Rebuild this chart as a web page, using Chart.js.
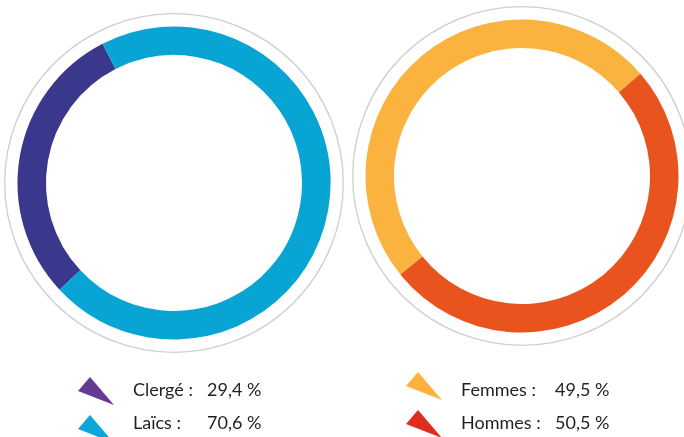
<!DOCTYPE html>
<html>
<head>
<meta charset="utf-8">
<script src="https://cdn.jsdelivr.net/npm/chart.js@4.4.0/dist/chart.umd.min.js"></script>
<style>
  html, body { margin: 0; padding: 0; width: 684px; height: 437px; overflow: hidden; background: #ffffff; }
  #wrap { position: relative; width: 684px; height: 437px; overflow: hidden; }
  canvas { position: absolute; }
  #c1 { left: 2px; top: 11px; }
  #c2 { left: 350px; top: 4px; }
  .lg { position: absolute; font-family: Lato, "Open Sans", sans-serif; font-size: 18px; line-height: 18px; color: #231f20; white-space: nowrap; }
  #icons { position: absolute; left: 0; top: 0; }
</style>
</head>
<body>
<div id="wrap">
  <canvas id="c1" width="344" height="344"></canvas>
  <canvas id="c2" width="344" height="344"></canvas>
  <svg id="icons" width="684" height="437"></svg>
</div>
<script>
// ---- data ----
const leftLabels = ['Clergé', 'Laïcs'];
const leftValues = [29.4, 70.6];
const rightLabels = ['Femmes', 'Hommes'];
const rightValues = [49.5, 50.5];

// ---- styles ----
const leftRingColors = ['#3a388c', '#08a5d4'];
const rightRingColors = ['#f9b33e', '#e9541e'];
const leftIconColors = ['#663a94', '#0ba7d9'];
const rightIconColors = ['#fbb33d', '#de2d1e'];

const greyRing = {
  id: 'greyRing',
  beforeDatasetsDraw(chart) {
    const a = chart.chartArea;
    const cx = (a.left + a.right) / 2, cy = (a.top + a.bottom) / 2;
    const ctx = chart.ctx;
    ctx.save();
    ctx.beginPath();
    ctx.arc(cx, cy, 169.3, 0, Math.PI * 2);
    ctx.strokeStyle = '#cfcfcf';
    ctx.lineWidth = 1.3;
    ctx.stroke();
    ctx.restore();
  }
};

function makeDonut(id, labels, values, colors, rotation) {
  return new Chart(document.getElementById(id), {
    type: 'doughnut',
    data: {
      labels: labels,
      datasets: [{
        data: values,
        backgroundColor: colors,
        borderWidth: 0,
        hoverOffset: 0
      }]
    },
    options: {
      responsive: false,
      animation: false,
      events: [],
      rotation: rotation,
      radius: 156.5,
      cutout: '81.8%',
      layout: { padding: 0 },
      plugins: { legend: { display: false }, tooltip: { enabled: false } }
    },
    plugins: [greyRing]
  });
}

makeDonut('c1', leftLabels, leftValues, leftRingColors, 227);
makeDonut('c2', rightLabels, rightValues, rightRingColors, 231);

// ---- legend ----
function fmt(v) { return v.toFixed(1).replace('.', ',') + ' %'; }
const wrap = document.getElementById('wrap');
const svg = document.getElementById('icons');
const legendBlocks = [
  { labels: leftLabels, values: leftValues, colors: leftIconColors, textX: 133, valX: 207, iconX: 78, iconTop: [377, 415] },
  { labels: rightLabels, values: rightValues, colors: rightIconColors, textX: 461, valX: 555, iconX: 406, iconTop: [372, 410] }
];
const rowTops = [379.5, 413];
legendBlocks.forEach(b => {
  b.labels.forEach((lab, i) => {
    const t = document.createElement('div');
    t.className = 'lg';
    t.style.left = b.textX + 'px';
    t.style.top = rowTops[i] + 'px';
    t.textContent = lab + ' :';
    wrap.appendChild(t);
    const v = document.createElement('div');
    v.className = 'lg';
    v.style.left = b.valX + 'px';
    v.style.top = rowTops[i] + 'px';
    v.textContent = fmt(b.values[i]);
    wrap.appendChild(v);
    const x = b.iconX, y = b.iconTop[i];
    const p = document.createElementNS('http://www.w3.org/2000/svg', 'path');
    p.setAttribute('d', `M${x + 36},${y + 28} L${x},${y + 14} L${x + 12},${y} Z`);
    p.setAttribute('fill', b.colors[i]);
    svg.appendChild(p);
  });
});
</script>
</body>
</html>
